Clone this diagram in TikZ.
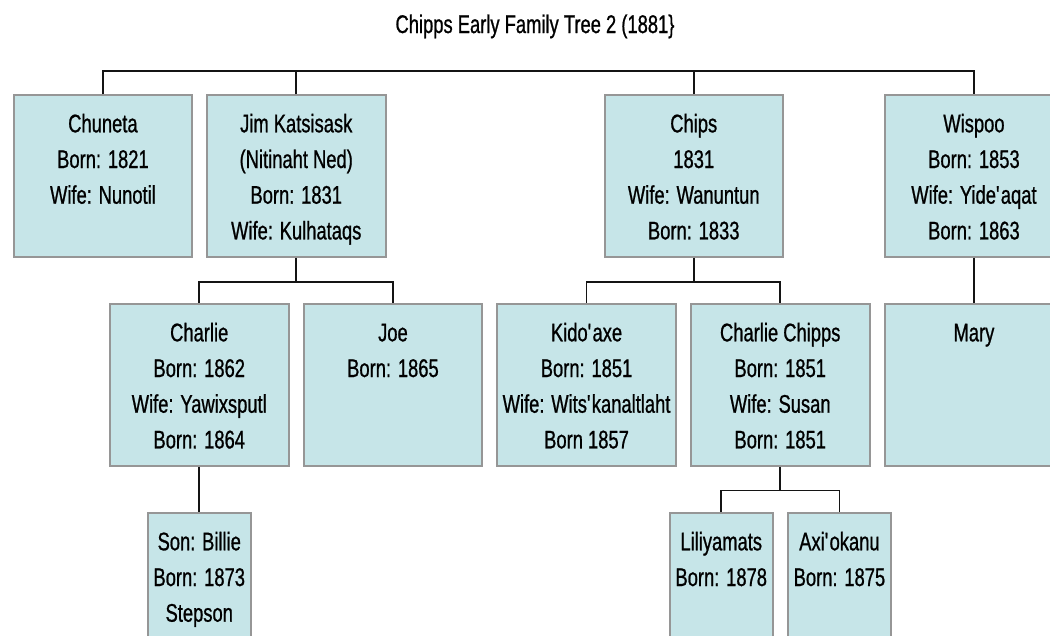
\documentclass[tikz,border=0pt]{standalone}
\usepackage{fontspec}
\setmainfont[FakeStretch=0.72,FakeBold=0.8]{Liberation Sans}
\definecolor{boxfill}{RGB}{198,229,232}
\definecolor{boxline}{RGB}{150,150,150}
\definecolor{wire}{RGB}{20,20,20}
\newcommand{\famtext}[2]{\parbox[t][161.5pt][t]{#1}{\centering\rule{0pt}{37pt}#2}}
\newcommand{\apos}{\textquotesingle}
\tikzset{
  person/.style={draw=boxline, line width=2pt, fill=boxfill, inner sep=0pt,
    anchor=north west, text=black, font=\fontsize{25.5}{35.7}\selectfont},
  wire/.style={draw=wire, line width=1.7pt},
  titletext/.style={anchor=base, inner sep=0pt, text=black, font=\fontsize{25.5}{28}\selectfont}
}
\begin{document}
\begin{tikzpicture}[x=1pt,y=-1pt]
\useasboundingbox (0,0) rectangle (1050,635);
\clip (0,0) rectangle (1050,635);
\node[titletext] (title) at (535,33) {Chipps Early Family Tree 2 (1881\}};
% row 1
\node[person] (chuneta) at (12.7,94.3) {\famtext{178.5pt}{Chuneta\\Born: 1821\\Wife: Nunotil}};
\node[person] (jim) at (206,94.3) {\famtext{178.5pt}{Jim Katsisask\\(Nitinaht Ned)\\Born: 1831\\Wife: Kulhataqs}};
\node[person] (chips) at (603.5,94.3) {\famtext{178.5pt}{Chips\\1831\\Wife: Wanuntun\\Born: 1833}};
\node[person] (wispoo) at (883.7,94.3) {\famtext{178.5pt}{Wispoo\\Born: 1853\\Wife: Yide\apos aqat\\Born: 1863}};
% row 2
\node[person] (charlie) at (109,303.3) {\famtext{178.5pt}{Charlie\\Born: 1862\\Wife: Yawixsputl\\Born: 1864}};
\node[person] (joe) at (302.7,303.3) {\famtext{178.5pt}{Joe\\Born: 1865}};
\node[person] (kido) at (496.3,303.3) {\famtext{178.5pt}{Kido\apos axe\\Born: 1851\\Wife: Wits\apos kanaltlaht\\Born 1857}};
\node[person] (cchipps) at (690,303.3) {\famtext{178.5pt}{Charlie Chipps\\Born: 1851\\Wife: Susan\\Born: 1851}};
\node[person] (mary) at (883.7,303.3) {\famtext{178.5pt}{Mary}};
% row 3
\node[person] (billie) at (146.5,512.3) {\famtext{103.5pt}{Son: Billie\\Born: 1873\\Stepson}};
\node[person] (lili) at (668.5,512.3) {\famtext{103.5pt}{Liliyamats\\Born: 1878}};
\node[person] (axi) at (786.7,512.3) {\famtext{103.5pt}{Axi\apos okanu\\Born: 1875}};
% connectors
\draw[wire] (chuneta.north) -- ++(0,-23.3) -| (wispoo.north);
\draw[wire] (jim.north) -- ++(0,-23.3);
\draw[wire] (chips.north) -- ++(0,-23.3);
\draw[wire] (jim.south) -- ++(0,24) coordinate (jimfork) -| (charlie.north);
\draw[wire] (jimfork) -| (joe.north);
\draw[wire] (chips.south) -- ++(0,24) coordinate (chipsfork) -| (kido.north);
\draw[wire] (chipsfork) -| (cchipps.north);
\draw[wire] (wispoo.south) -- (mary.north);
\draw[wire] (charlie.south) -- (billie.north);
\draw[wire] (cchipps.south) -- ++(0,23.6) coordinate (ccfork) -| (lili.north);
\draw[wire] (ccfork) -| (axi.north);
\end{tikzpicture}
\end{document}
